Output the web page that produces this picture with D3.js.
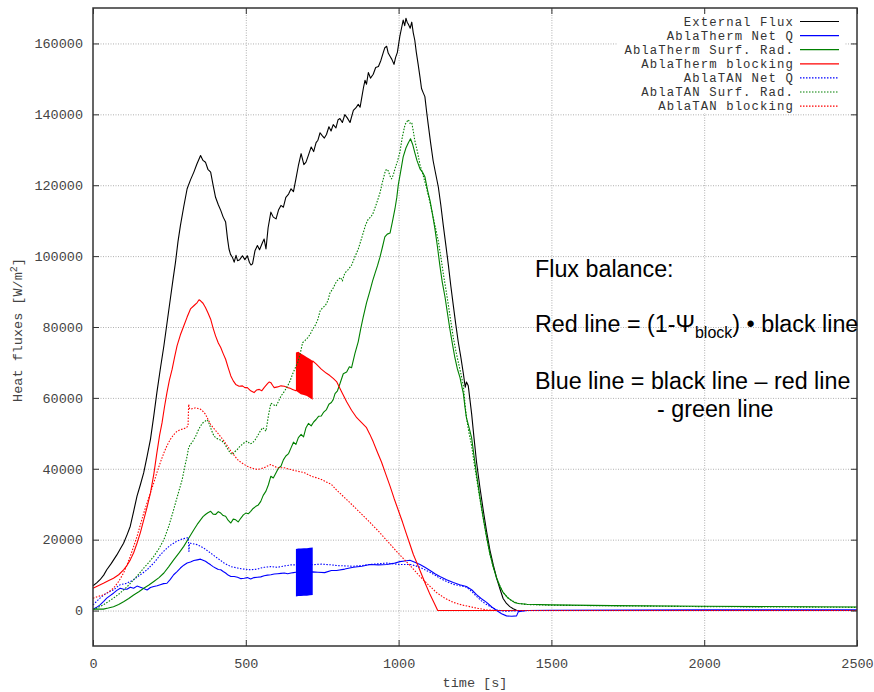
<!DOCTYPE html>
<html><head><meta charset="utf-8">
<script src="https://cdn.jsdelivr.net/npm/d3@7"></script>
<style>body{margin:0;background:#fff} svg{display:block}</style>
</head><body><svg id="c" width="874" height="692"></svg>
<script>
// ---------------- data (time [s], heat flux [W/m2]) ----------------
const xTicks = [0, 500, 1000, 1500, 2000, 2500];
const yTicks = [0, 20000, 40000, 60000, 80000, 100000, 120000, 140000, 160000];

const externalFlux = [[0,7000],[12,7800],[23,8700],[35,10000],[45,11500],[60,13300],[78,15700],[90,17500],[100,19000],[112,21500],[122,23800],[133,28000],[144,32300],[155,35500],[166,38900],[177,43500],[188,48300],[199,55000],[209,61500],[220,68000],[232,74700],[242,81000],[253,87900],[262,93500],[270,98300],[278,104000],[286,108600],[297,114000],[308,119000],[319,121500],[330,123700],[340,126000],[352,128400],[360,127000],[368,126500],[376,124500],[385,123700],[393,120000],[401,116600],[410,114500],[418,112900],[426,111000],[434,109600],[440,105000],[445,102000],[450,100500],[456,99700],[462,98300],[468,100200],[473,98700],[480,99000],[489,100100],[497,99000],[505,100100],[512,98200],[517,97500],[522,97800],[530,101500],[538,103000],[545,101800],[555,103900],[560,104800],[566,102000],[573,108000],[582,112400],[590,111000],[599,110500],[607,113000],[615,114300],[623,113800],[631,116600],[640,117500],[648,119000],[656,118200],[664,121800],[672,125500],[681,128900],[690,125800],[697,126500],[705,128500],[714,130800],[722,129500],[730,132000],[736,132700],[743,134800],[750,134000],[757,133300],[764,134300],[772,136500],[779,135300],[786,137100],[795,136200],[802,138500],[808,138800],[816,137700],[824,139900],[832,139000],[841,137700],[852,141100],[860,141800],[868,142800],[874,142000],[879,144500],[885,147500],[890,149600],[895,148500],[901,151800],[908,150200],[917,151300],[925,153200],[934,153500],[942,155200],[950,157500],[955,158800],[961,159200],[966,157300],[972,156400],[978,155500],[985,154100],[990,156000],[996,157500],[1004,162000],[1010,164500],[1015,166600],[1020,165000],[1024,167100],[1028,166000],[1032,165400],[1038,164300],[1043,166000],[1048,163000],[1053,160900],[1058,157500],[1064,154100],[1070,150500],[1075,147300],[1080,146200],[1086,145000],[1092,140500],[1097,137100],[1105,131800],[1113,126900],[1120,123800],[1130,119500],[1138,114500],[1146,108800],[1155,102800],[1163,97400],[1171,91500],[1179,86100],[1187,80800],[1195,75900],[1204,71300],[1212,66800],[1218,63000],[1222,64500],[1228,63400],[1233,59800],[1239,55500],[1247,48500],[1255,41900],[1266,34800],[1277,28300],[1288,22300],[1299,17000],[1310,12800],[1321,9100],[1332,6000],[1342,3400],[1353,2000],[1364,1100],[1375,500],[1386,100],[1400,0],[1500,0],[2000,0],[2500,0]];

const ablaThermNetQ = [[0,400],[12,900],[23,1600],[35,2600],[45,3500],[56,4200],[67,4900],[78,5700],[89,6300],[100,6000],[111,6000],[122,6600],[133,6300],[144,6900],[155,6600],[166,6200],[177,5800],[188,6500],[199,6800],[210,7000],[220,7300],[231,7600],[242,7700],[253,8800],[264,10100],[275,11000],[286,12000],[297,12800],[308,13400],[319,13700],[330,14100],[341,14300],[352,14500],[360,14200],[368,13900],[376,13400],[385,12900],[393,12400],[401,12000],[410,11600],[418,11500],[426,11000],[434,10600],[442,10000],[451,9600],[462,9600],[473,9400],[484,9000],[495,9100],[505,9300],[516,8900],[527,9300],[538,9400],[549,9500],[560,9800],[571,10000],[582,10100],[593,10300],[604,10400],[615,10500],[626,10600],[637,10400],[648,10600],[656,10700],[664,10800],[719,10900],[736,10800],[758,10700],[780,11300],[797,11300],[824,11700],[852,12200],[880,12500],[906,13000],[934,12900],[961,13000],[983,13300],[1004,13800],[1020,14000],[1037,14200],[1053,13600],[1070,13000],[1086,12200],[1103,11300],[1119,10400],[1135,9600],[1157,8700],[1179,7900],[1200,7300],[1222,6800],[1240,5800],[1255,4500],[1270,3400],[1288,2300],[1305,1000],[1321,0],[1337,-900],[1353,-1500],[1370,-1600],[1386,-1500],[1392,-300],[1420,0],[1500,100],[2000,200],[2500,200]];

const ablaThermSurfRad = [[0,400],[17,400],[34,400],[50,700],[67,1100],[84,1700],[100,2500],[117,3400],[133,4400],[150,5300],[166,6300],[183,7200],[199,8200],[216,9300],[232,10600],[248,12400],[264,14300],[281,16200],[297,18100],[313,20400],[330,22800],[341,24300],[352,25600],[360,26500],[368,27100],[376,27600],[385,28000],[393,27200],[401,27100],[410,27900],[418,27500],[426,26800],[434,26600],[442,25500],[451,24700],[459,25800],[467,25600],[475,25000],[484,26100],[492,27000],[500,27500],[508,27300],[516,28000],[524,28800],[533,29400],[541,29800],[549,30800],[557,32500],[566,33700],[574,35500],[582,37900],[590,37400],[599,38900],[607,40200],[615,40700],[623,42500],[631,43600],[640,44300],[648,45900],[656,47500],[664,46900],[672,48800],[681,49700],[689,49000],[697,51600],[705,52800],[714,52100],[722,53200],[730,53900],[738,54800],[747,54900],[755,56000],[764,56700],[772,58200],[780,58700],[786,59500],[792,61200],[800,62000],[808,64000],[819,66800],[830,67300],[839,68800],[846,68500],[857,72500],[868,75900],[876,79500],[884,82700],[895,86800],[906,90100],[915,93000],[923,95200],[931,97300],[939,99700],[947,102500],[955,105400],[963,106200],[972,106500],[980,109800],[988,113300],[994,116500],[999,120100],[1007,124000],[1015,128000],[1024,130500],[1032,132000],[1039,133100],[1046,131500],[1053,129200],[1060,127000],[1070,124600],[1078,123700],[1086,122400],[1095,118500],[1103,115600],[1111,111800],[1119,107600],[1127,102700],[1135,97400],[1143,92600],[1152,88400],[1160,83800],[1168,79300],[1176,75300],[1184,71400],[1192,68300],[1201,65700],[1207,63200],[1212,61200],[1217,57500],[1222,54400],[1230,51800],[1239,48700],[1247,43500],[1255,38500],[1266,32000],[1277,26100],[1288,20700],[1299,15900],[1310,12200],[1321,9100],[1332,6800],[1342,5100],[1356,3700],[1370,2800],[1381,2200],[1392,2000],[1420,1800],[1500,1600],[1700,1400],[2000,1200],[2500,1000]];

const ablaThermBlocking = [[0,6300],[17,7000],[34,7700],[50,8400],[67,9100],[84,10100],[100,11500],[111,12700],[122,14300],[133,16300],[144,19000],[155,22000],[166,25600],[177,29200],[188,33200],[199,38500],[209,44500],[218,49500],[226,53000],[234,57500],[242,61500],[250,65000],[259,68100],[267,71500],[275,74700],[286,77800],[297,80300],[308,82800],[319,85100],[330,86000],[341,86900],[347,87700],[352,87400],[360,86700],[368,85500],[376,84000],[385,82200],[393,79700],[401,77500],[410,75500],[418,74200],[426,72500],[434,70900],[442,68600],[451,66200],[459,64800],[467,63800],[478,63300],[489,63400],[497,62900],[505,62900],[516,62000],[527,61500],[535,62200],[544,62400],[552,62000],[560,62900],[571,64000],[577,64500],[582,64300],[588,63500],[593,62900],[604,63100],[615,63400],[626,63300],[637,62900],[645,62700],[653,62400],[664,62000],[719,70400],[730,69600],[747,68100],[763,67000],[775,66300],[786,65500],[797,64600],[813,61800],[830,58900],[846,56500],[863,54400],[879,53000],[895,51600],[906,49700],[917,47600],[930,44800],[944,41900],[958,38500],[972,35100],[985,31700],[999,28300],[1013,24900],[1026,21500],[1037,18700],[1048,15900],[1059,13600],[1070,11300],[1086,7900],[1103,4500],[1116,2200],[1128,0],[1500,0],[2500,0]];

const ablaTanNetQ = [[0,1600],[12,2600],[23,3500],[34,4300],[45,4900],[56,5400],[67,5800],[78,6600],[89,7300],[100,7500],[111,7700],[122,8200],[133,8700],[144,9400],[155,10100],[166,10800],[177,11500],[188,12500],[199,13400],[210,14600],[220,15700],[231,16700],[242,17600],[253,18400],[264,19000],[275,19600],[286,20000],[297,20300],[308,20500],[312,20500],[314,16700],[316,19000],[319,19000],[330,18800],[341,18600],[352,18100],[363,17600],[374,16900],[385,16200],[396,15500],[407,14800],[418,14100],[429,13400],[440,12900],[451,12400],[462,12200],[473,12000],[484,11800],[495,11700],[505,11600],[516,11500],[527,11600],[538,11700],[549,12000],[560,12200],[571,12300],[582,12400],[593,12300],[604,12200],[615,12400],[626,12600],[637,12700],[648,12900],[670,12900],[692,12900],[714,12900],[730,13000],[747,13100],[763,13000],[780,12900],[797,12700],[824,12600],[852,12500],[880,12700],[906,13000],[934,13200],[961,13400],[983,13200],[1004,13000],[1020,13000],[1037,13000],[1053,12700],[1070,12200],[1086,11500],[1103,10800],[1119,10000],[1135,9100],[1157,8200],[1179,7400],[1200,7000],[1222,6600],[1240,5300],[1255,4000],[1270,2800],[1288,1700],[1305,900],[1321,200],[1337,-100],[1353,-200],[1380,-100],[1420,0],[2500,0]];

const ablaTanSurfRad = [[0,200],[17,900],[34,1600],[50,2500],[67,3500],[84,4600],[100,5800],[117,7200],[133,8700],[150,10300],[166,12000],[183,13600],[199,15300],[216,17500],[232,20000],[248,23800],[264,28500],[278,32800],[292,37000],[300,40500],[308,43600],[313,46000],[319,46900],[327,47800],[336,49200],[344,50800],[352,52100],[360,53000],[368,53500],[374,53800],[379,53000],[388,50800],[396,49200],[404,48600],[412,48300],[420,48000],[429,47300],[437,46100],[445,45000],[451,44300],[456,44000],[464,44800],[473,45500],[481,46400],[489,46900],[497,47500],[505,47800],[514,47000],[522,47300],[530,48100],[538,49200],[547,50600],[555,51600],[560,51200],[566,50600],[574,55000],[582,58500],[590,58100],[599,57700],[607,59000],[615,60500],[626,61800],[637,63400],[645,64800],[653,66700],[661,68300],[670,70000],[678,72500],[686,75600],[694,76200],[703,77000],[711,78000],[719,79400],[728,80600],[736,82200],[743,84500],[752,85500],[760,86000],[769,87500],[775,89500],[786,91000],[797,92900],[810,94000],[816,93000],[824,95200],[835,96200],[846,97400],[857,99800],[868,102000],[876,104200],[884,106500],[892,108800],[901,110500],[909,111000],[917,112200],[928,114900],[939,117800],[947,120800],[955,123500],[960,124500],[966,124100],[972,122600],[977,121800],[983,123000],[988,124600],[996,126700],[1004,129200],[1012,133500],[1021,137100],[1026,137800],[1032,138500],[1037,137500],[1043,137700],[1048,135300],[1053,132600],[1062,129300],[1070,125800],[1081,122600],[1092,119000],[1103,115000],[1113,111000],[1122,107500],[1130,104200],[1138,99900],[1146,95200],[1155,90500],[1163,86100],[1171,81500],[1179,77000],[1187,73400],[1195,70200],[1204,66800],[1212,63400],[1217,58500],[1222,54400],[1230,50300],[1239,46500],[1247,41800],[1255,37400],[1266,31500],[1277,26100],[1288,20700],[1299,15900],[1310,12200],[1321,9100],[1332,6800],[1342,5100],[1356,3700],[1370,2800],[1392,2000],[1420,1700],[1500,1500],[2000,1100],[2500,900]];

const ablaTanBlocking = [[0,3500],[17,4000],[34,4400],[50,5200],[67,6300],[84,8200],[100,10600],[111,12800],[122,15300],[133,18100],[144,20900],[155,24200],[166,27500],[177,30400],[188,33200],[199,36100],[209,38900],[220,41700],[232,44500],[242,46500],[253,48300],[264,49600],[275,50600],[286,51000],[297,51300],[305,51600],[311,52100],[313,58200],[316,57000],[319,56800],[327,57000],[336,57200],[344,57000],[352,56800],[360,56200],[368,55400],[376,54000],[385,52500],[396,51300],[407,50200],[418,49000],[429,47800],[440,46400],[451,45000],[462,43800],[473,42600],[484,41800],[495,41200],[505,40700],[516,40300],[527,40000],[538,39800],[549,40000],[560,40300],[571,40800],[582,41200],[593,40700],[604,40300],[615,40300],[626,40300],[637,40000],[648,39800],[659,39500],[670,39300],[681,39100],[692,38900],[703,38400],[714,37900],[730,37500],[747,37000],[763,36300],[780,35600],[797,34000],[824,31800],[852,29500],[879,27200],[906,24900],[934,22400],[961,19800],[988,17200],[1015,14700],[1043,12200],[1070,9600],[1097,7300],[1124,5100],[1151,3500],[1179,2300],[1206,1600],[1233,1100],[1260,600],[1288,200],[1320,0],[2500,0]];

// oscillation bands (time, low, high)
const bandTime      = [664, 672, 680, 690, 700, 710, 719];
const redBandHigh   = [72800, 73000, 72500, 72000, 71500, 71000, 70400];
const redBandLow    = [62000, 61500, 61000, 60800, 60500, 60000, 59500];
const blueBandHigh  = [17400, 17500, 17500, 17600, 17600, 17700, 17800];
const blueBandLow   = [4000, 4100, 4100, 4200, 4200, 4300, 4400];

const legendLabels = ["External Flux","AblaTherm Net Q","AblaTherm Surf. Rad.","AblaTherm blocking","AblaTAN Net Q","AblaTAN Surf. Rad.","AblaTAN blocking"];

// ---------------- drawing ----------------
const M = {l:93, r:857, t:8, b:646};
const x = d3.scaleLinear().domain([0,2500]).range([M.l, M.r]);
const y = d3.scaleLinear().domain([-10000,170000]).range([M.b, M.t]);
const svg = d3.select('#c');
const mono = "'Liberation Mono','DejaVu Sans Mono',monospace";
const sans = "'Liberation Sans',Arial,sans-serif";

// grid
svg.append('g').attr('transform',`translate(0,${M.b})`)
  .call(d3.axisBottom(x).tickValues(xTicks.slice(1,-1)).tickSize(-(M.b-M.t)).tickFormat(''))
  .call(g=>{g.select('.domain').remove();g.selectAll('line').attr('stroke','#b0b0b0').attr('stroke-width',1).attr('stroke-dasharray','1,1.5');});
svg.append('g').attr('transform',`translate(${M.l},0)`)
  .call(d3.axisLeft(y).tickValues(yTicks).tickSize(-(M.r-M.l)).tickFormat(''))
  .call(g=>{g.select('.domain').remove();g.selectAll('line').attr('stroke','#b0b0b0').attr('stroke-width',1).attr('stroke-dasharray','1,1.5');});

const line = d3.line().x(d=>x(d[0])).y(d=>y(d[1]));
const series = [
  {data: externalFlux,      color:'#000000', dash:null},
  {data: ablaThermNetQ,     color:'#0000ff', dash:null},
  {data: ablaThermSurfRad,  color:'#008000', dash:null},
  {data: ablaThermBlocking, color:'#ff0000', dash:null},
  {data: ablaTanNetQ,       color:'#0000ff', dash:'1.5,1.5'},
  {data: ablaTanSurfRad,    color:'#008000', dash:'1.5,1.5'},
  {data: ablaTanBlocking,   color:'#ff0000', dash:'1.5,1.5'}
];
const plot = svg.append('g');
const area = d3.area().x(d=>x(d.t)).y0(d=>y(d.lo)).y1(d=>y(d.hi));
const redBand = bandTime.map((t,i)=>({t, lo:redBandLow[i], hi:redBandHigh[i]}));
const blueBand = bandTime.map((t,i)=>({t, lo:blueBandLow[i], hi:blueBandHigh[i]}));
series.forEach((s,i)=>{
  plot.append('path').attr('d', line(s.data)).attr('fill','none')
    .attr('stroke', s.color).attr('stroke-width', 1.1)
    .attr('stroke-dasharray', s.dash).attr('stroke-linejoin','round');
  if (i===1) plot.append('path').attr('d', area(blueBand)).attr('fill','#0000ff');
  if (i===3) plot.append('path').attr('d', area(redBand)).attr('fill','#ff0000');
});

// legend (opaque box)
const lg = svg.append('g');
lg.append('rect').attr('x',618).attr('y',13).attr('width',226).attr('height',100).attr('fill','#fff');
legendLabels.forEach((lab,i)=>{
  const yy = 21.5 + i*14.1;
  lg.append('text').attr('x',794).attr('y',yy).attr('dy','0.35em').attr('text-anchor','end')
    .attr('font-family',mono).attr('font-size','12.3px').attr('letter-spacing','1.1px')
    .attr('fill','#333').text(lab);
  lg.append('line').attr('x1',800).attr('x2',839).attr('y1',yy).attr('y2',yy)
    .attr('stroke',series[i].color).attr('stroke-width',1.2).attr('stroke-dasharray',series[i].dash);
});

// frame
svg.append('rect').attr('x',M.l).attr('y',M.t).attr('width',M.r-M.l).attr('height',M.b-M.t)
  .attr('fill','none').attr('stroke','#333').attr('stroke-width',1.5);

// axes with inward ticks
const styleAxis = g=>{g.select('.domain').remove();g.selectAll('line').attr('stroke','#333');
  g.selectAll('text').attr('font-family',mono).attr('font-size','13.5px').attr('fill','#444');};
svg.append('g').attr('transform',`translate(${M.l},0)`)
  .call(d3.axisLeft(y).tickValues(yTicks).tickSize(-6).tickPadding(10).tickFormat(d3.format('d'))).call(styleAxis);
svg.append('g').attr('transform',`translate(${M.r},0)`)
  .call(d3.axisRight(y).tickValues(yTicks).tickSize(-6).tickFormat('')).call(styleAxis);
svg.append('g').attr('transform',`translate(0,${M.b})`)
  .call(d3.axisBottom(x).tickValues(xTicks).tickSize(-6).tickPadding(12).tickFormat(d3.format('d'))).call(styleAxis);
svg.append('g').attr('transform',`translate(0,${M.t})`)
  .call(d3.axisTop(x).tickValues(xTicks).tickSize(-6).tickFormat('')).call(styleAxis);

// axis titles
svg.append('text').attr('x',(M.l+M.r)/2).attr('y',687).attr('text-anchor','middle')
  .attr('font-family',mono).attr('font-size','13.5px').attr('fill','#444').text('time [s]');
const yl = svg.append('text').attr('transform','translate(22,330) rotate(-90)').attr('text-anchor','middle')
  .attr('font-family',mono).attr('font-size','13.5px').attr('fill','#444');
yl.append('tspan').text('Heat fluxes [W/m');
yl.append('tspan').attr('dy',-5).attr('font-size','10px').text('2');
yl.append('tspan').attr('dy',5).text(']');

// annotation
const ann = svg.append('g').attr('font-family',sans).attr('font-size','23.3px').attr('fill','#000');
ann.append('text').attr('x',535).attr('y',277).text('Flux balance:');
const t2 = ann.append('text').attr('x',535).attr('y',332);
t2.append('tspan').text('Red line = (1-\u03A8');
t2.append('tspan').attr('dy',6).attr('font-size','16px').text('block');
t2.append('tspan').attr('dy',-6).text(') \u2022 black line');
ann.append('text').attr('x',535).attr('y',389).text('Blue line = black line \u2013 red line');
ann.append('text').attr('x',657).attr('y',417).text('- green line');
</script>
</body></html>
